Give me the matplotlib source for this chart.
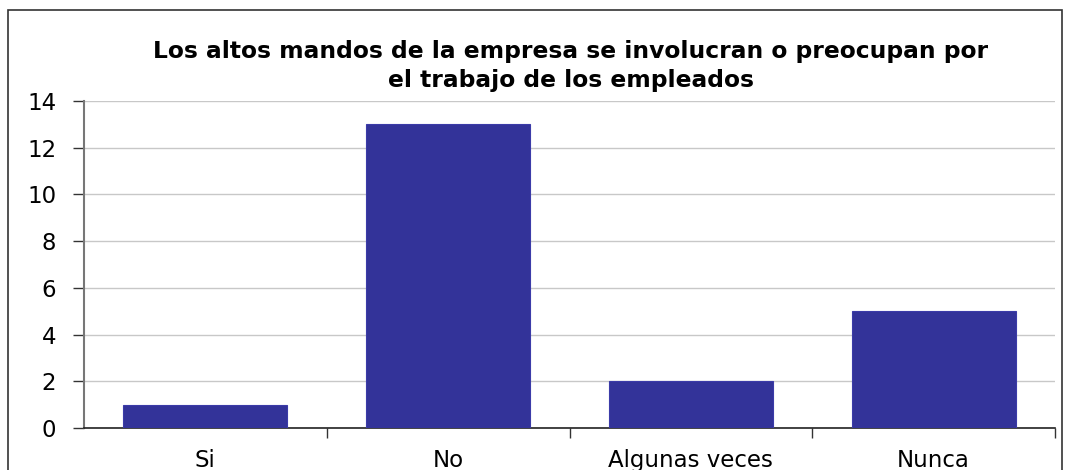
import matplotlib
matplotlib.use('agg')
from matplotlib import pyplot as plt
from matplotlib.patches import Rectangle

# Chart data
categories = ['Si', 'No', 'Algunas veces', 'Nunca']
counts = [1, 13, 2, 5]
y_ticks = [0, 2, 4, 6, 8, 10, 12, 14]
title = 'Los altos mandos de la empresa se involucran o preocupan por\nel trabajo de los empleados'

plt.rcParams['font.family'] = ['DejaVu Sans']

fig = plt.figure(figsize=(10.7, 4.7), dpi=100)
ax = fig.add_axes([84 / 1070, 42 / 470, 971 / 1070, 327 / 470])

# Outer chart border (bottom edge falls outside the image)
fig.patches.append(Rectangle((8 / 1070, -0.05), 1054 / 1070, 1.05 - 10 / 470,
                             transform=fig.transFigure, fill=False,
                             edgecolor='#333333', linewidth=1.2))

x = list(range(len(categories)))
ax.bar(x, counts, width=0.675, color='#333399', edgecolor='#3b3ba8', linewidth=0.8, zorder=3)

ax.set_xlim(-0.5, len(categories) - 0.5)
ax.set_ylim(0, 14)
ax.set_yticks(y_ticks)
ax.set_yticklabels([str(v) for v in y_ticks], fontsize=16.5)
ax.yaxis.grid(True, color='#c8c8c8', linewidth=1.0, zorder=0)

# Category labels in the middle, tick marks at boundaries
ax.set_xticks([i + 0.5 for i in x])
ax.set_xticklabels([])
ax.set_xticks(x, minor=True)
ax.set_xticklabels(categories, minor=True, fontsize=16.5)
ax.tick_params(axis='x', which='minor', length=0, pad=15)
ax.tick_params(axis='x', which='major', length=7, width=1, color='#333333')
ax.tick_params(axis='y', length=8, width=1, color='#333333', pad=12)

for side in ['top', 'right']:
    ax.spines[side].set_visible(False)
ax.spines['left'].set_color('#777777')
ax.spines['left'].set_linewidth(1.5)
ax.spines['bottom'].set_color('#222222')
ax.spines['bottom'].set_linewidth(1.2)

fig.text(571 / 1070, 1 - 66 / 470, title, ha='center', va='center',
         fontsize=16.8, fontweight='bold', linespacing=1.3)

fig.savefig('out.png', dpi=100)
plt.close(fig)
